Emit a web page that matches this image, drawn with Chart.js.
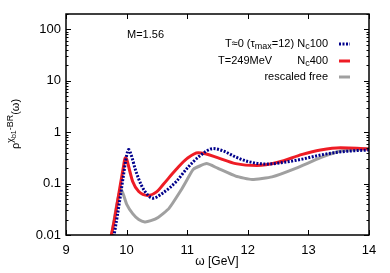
<!DOCTYPE html>
<html>
<head>
<meta charset="utf-8">
<script src="https://cdn.jsdelivr.net/npm/chart.js@4"></script>
<style>
  body { margin: 0; background: #fff; }
  #wrap { width: 390px; height: 273px; }
</style>
</head>
<body>
<div id="wrap"><canvas id="chart" width="390" height="273"></canvas></div>
<script>
// T=0 (tau_max=12) Nc100
const omegaZero = [9.78, 9.85, 9.9, 9.95, 10.0, 10.035, 10.07, 10.15, 10.25, 10.35, 10.43, 10.6, 10.82, 11.0, 11.2, 11.43, 11.6, 11.8, 12.0, 12.32, 12.6, 12.9, 13.2, 13.5, 13.8, 14.0];
const rhoZero   = [0.008, 0.025, 0.06, 0.15, 0.35, 0.46, 0.38, 0.18, 0.09, 0.06, 0.052, 0.066, 0.11, 0.2, 0.34, 0.48, 0.43, 0.33, 0.27, 0.24, 0.26, 0.3, 0.36, 0.41, 0.44, 0.45];
// T=249MeV Nc400
const omegaHot = [9.73, 9.8, 9.85, 9.9, 9.95, 9.975, 10.0, 10.05, 10.1, 10.2, 10.35, 10.5, 10.6, 10.82, 11.0, 11.18, 11.3, 11.5, 11.8, 12.15, 12.5, 12.9, 13.2, 13.53, 13.8, 14.0];
const rhoHot   = [0.008, 0.02, 0.045, 0.1, 0.22, 0.32, 0.3, 0.18, 0.11, 0.07, 0.059, 0.07, 0.095, 0.19, 0.31, 0.4, 0.38, 0.32, 0.245, 0.225, 0.26, 0.37, 0.45, 0.5, 0.49, 0.47];
// rescaled free
const omegaFree = [9.74, 9.82, 9.88, 9.91, 9.95, 10.0, 10.1, 10.2, 10.3, 10.4, 10.52, 10.7, 10.9, 11.0, 11.1, 11.32, 11.5, 11.8, 12.07, 12.4, 12.8, 13.2, 13.53, 13.8, 14.0];
const rhoFree   = [0.008, 0.03, 0.065, 0.076, 0.06, 0.04, 0.026, 0.02, 0.018, 0.019, 0.022, 0.033, 0.075, 0.12, 0.19, 0.245, 0.2, 0.14, 0.12, 0.135, 0.2, 0.32, 0.43, 0.46, 0.48];

const xTicks = [9, 10, 11, 12, 13, 14];
const yTicks = [0.01, 0.1, 1, 10, 100];
const yTickLabels = ['0.01', '0.1', '1', '10', '100'];

const FONT = '"Liberation Sans", Arial, sans-serif';
const toPts = (xs, ys) => xs.map((x, i) => ({ x: x, y: ys[i] }));

// draws a run of text pieces: [text, size, dy]
function drawParts(ctx, parts, x, y) {
  parts.forEach(p => {
    ctx.font = p[1] + 'px ' + FONT;
    ctx.fillText(p[0], x, y + p[2]);
    x += ctx.measureText(p[0]).width;
  });
  return x;
}
function partsWidth(ctx, parts) {
  let w = 0;
  parts.forEach(p => {
    ctx.font = p[1] + 'px ' + FONT;
    w += ctx.measureText(p[0]).width;
  });
  return w;
}

const decor = {
  id: 'decor',
  afterDraw(chart) {
    const ctx = chart.ctx;
    const a = chart.chartArea;
    const xs = chart.scales.x, ys = chart.scales.y;
    ctx.save();
    ctx.strokeStyle = '#000';
    ctx.lineWidth = 1;
    // tics, gnuplot style (inside, mirrored)
    ctx.beginPath();
    xTicks.forEach(v => {
      const px = Math.round(xs.getPixelForValue(v)) + 0.5;
      ctx.moveTo(px, a.bottom); ctx.lineTo(px, a.bottom - 5);
      ctx.moveTo(px, a.top); ctx.lineTo(px, a.top + 5);
    });
    yTicks.forEach(v => {
      const py = Math.round(ys.getPixelForValue(v)) + 0.5;
      ctx.moveTo(a.left, py); ctx.lineTo(a.left + 5, py);
      ctx.moveTo(a.right, py); ctx.lineTo(a.right - 5, py);
      for (let m = 2; m < 10; m++) {
        const mv = v * m;
        if (mv > ys.max) break;
        const my = Math.round(ys.getPixelForValue(mv)) + 0.5;
        ctx.moveTo(a.left, my); ctx.lineTo(a.left + 2.5, my);
        ctx.moveTo(a.right, my); ctx.lineTo(a.right - 2.5, my);
      }
    });
    ctx.stroke();
    // frame
    ctx.lineWidth = 1.5;
    ctx.strokeRect(a.left, a.top, a.right - a.left, a.bottom - a.top);

    ctx.fillStyle = '#000';
    ctx.textBaseline = 'middle';
    ctx.textAlign = 'left';
    // M label
    ctx.font = '11px ' + FONT;
    ctx.fillText('M=1.56', 127, 35);

    // legend
    const right = 328;
    const row1 = [['T\u22480 (\u03c4', 11, 0], ['max', 9, 3], ['=12) N', 11, 0], ['c', 9, 3], ['100', 11, 0]];
    drawParts(ctx, row1, right - partsWidth(ctx, row1), 44);
    drawParts(ctx, [['T=249MeV', 11, 0]], 218, 61);
    const row2 = [['N', 11, 0], ['c', 9, 3], ['400', 11, 0]];
    drawParts(ctx, row2, right - partsWidth(ctx, row2), 61);
    const row3 = [['rescaled free', 11, 0]];
    drawParts(ctx, row3, right - partsWidth(ctx, row3), 77);

    ctx.lineWidth = 3;
    ctx.strokeStyle = '#00008b';
    ctx.setLineDash([2, 1.5]);
    ctx.beginPath(); ctx.moveTo(339, 44); ctx.lineTo(350, 44); ctx.stroke();
    ctx.setLineDash([]);
    ctx.strokeStyle = '#ee1c25';
    ctx.beginPath(); ctx.moveTo(339, 61); ctx.lineTo(350, 61); ctx.stroke();
    ctx.strokeStyle = '#a0a0a0';
    ctx.beginPath(); ctx.moveTo(339, 77); ctx.lineTo(350, 77); ctx.stroke();

    // x title
    ctx.textAlign = 'center';
    ctx.font = '12px ' + FONT;
    ctx.fillText('\u03c9 [GeV]', 217, 262);

    // y title, rotated
    ctx.textAlign = 'left';
    const yt = [['\u03c1', 11, 0], ['\u03c7', 9, -5], ['b1', 7, -2], ['-BR', 9, -5], ['(\u03c9)', 11, 0]];
    ctx.translate(16, 124);
    ctx.rotate(-Math.PI / 2);
    drawParts(ctx, yt, -partsWidth(ctx, yt) / 2, 0);
    ctx.restore();
  }
};

new Chart(document.getElementById('chart'), {
  type: 'line',
  data: {
    datasets: [
      { label: 'T=0 Nc100', data: toPts(omegaZero, rhoZero), borderColor: '#00008b', borderWidth: 3, borderDash: [2, 1.5], pointRadius: 0, cubicInterpolationMode: 'monotone', order: 1 },
      { label: 'T=249MeV Nc400', data: toPts(omegaHot, rhoHot), borderColor: '#ee1c25', borderWidth: 3, pointRadius: 0, cubicInterpolationMode: 'monotone', order: 2 },
      { label: 'rescaled free', data: toPts(omegaFree, rhoFree), borderColor: '#a0a0a0', borderWidth: 3, pointRadius: 0, tension: 0.15, order: 3 }
    ]
  },
  options: {
    responsive: false,
    animation: false,
    devicePixelRatio: 1,
    layout: { padding: { top: 14, right: 21, left: 0, bottom: 0 } },
    plugins: { legend: { display: false }, tooltip: { enabled: false } },
    scales: {
      x: {
        type: 'linear', min: 9, max: 14,
        grid: { display: false, drawTicks: false },
        border: { display: false },
        afterBuildTicks: s => { s.ticks = xTicks.map(v => ({ value: v })); },
        afterFit: s => { s.height = 38; },
        ticks: { color: '#000', padding: 8, font: { family: FONT, size: 13 }, maxRotation: 0 }
      },
      y: {
        type: 'logarithmic', min: 0.01, max: 200,
        grid: { display: false, drawTicks: false },
        border: { display: false },
        afterBuildTicks: s => { s.ticks = yTicks.map(v => ({ value: v })); },
        afterFit: s => { s.width = 66; },
        ticks: { color: '#000', padding: 5, font: { family: FONT, size: 13 },
          callback: v => yTickLabels[yTicks.indexOf(v)] }
      }
    }
  },
  plugins: [decor]
});
</script>
</body>
</html>
